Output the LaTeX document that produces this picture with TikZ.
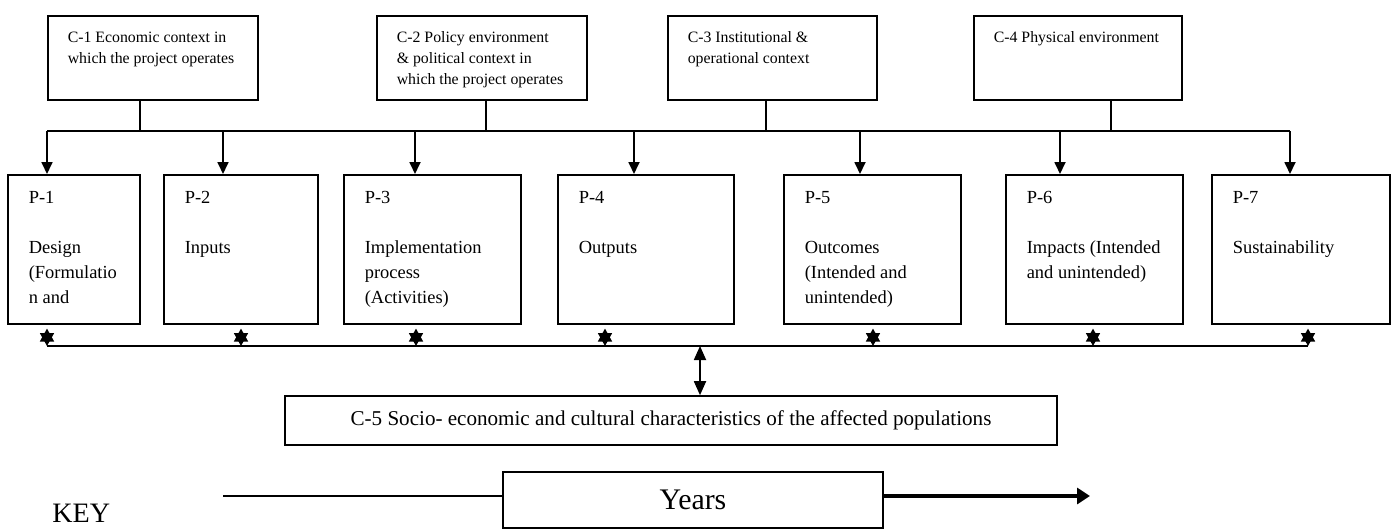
\documentclass[tikz,border=0pt]{standalone}
\usepackage{fontspec}
\setmainfont{Liberation Serif}
\usetikzlibrary{arrows.meta}
\def\boxtext#1#2#3{\parbox[c][#2][t]{#1}{\raggedright #3}}
\tikzset{
	ctxbox/.style={draw, line width=0.9pt, anchor=north west, inner xsep=0.4cm, inner ysep=0.32cm, font=\fontsize{9}{12}\selectfont},
	phasebox/.style={draw, line width=0.9pt, anchor=north west, inner xsep=0.42cm, inner ysep=0.33cm, font=\fontsize{10.5}{14.2}\selectfont},
	link/.style={line width=1pt},
	feed/.style={line width=1pt, -{Triangle[length=0.24cm,width=0.22cm]}},
	twoway/.style={line width=1pt, {Triangle[length=0.28cm,width=0.24cm]}-{Triangle[length=0.28cm,width=0.24cm]}},
	starmark/.style={line width=1pt, {Triangle[length=0.26cm,width=0.28cm]}-{Triangle[length=0.26cm,width=0.28cm]}}
}

\begin{document}
\begin{tikzpicture}
		%%%%% START %%%%%
		\useasboundingbox (0,0) rectangle (27.82,10.58);
		
		\node[ctxbox] (c1) at (0.94,10.28) {\boxtext{3.4cm}{1.04cm}{C-1 Economic context in\\ which the project operates}};
		\node[ctxbox] (c2) at (7.52,10.28) {\boxtext{3.4cm}{1.04cm}{C-2 Policy environment\\ \& political context in\\ which the project operates}};
		\node[ctxbox] (c3) at (13.34,10.28) {\boxtext{3.38cm}{1.04cm}{C-3 Institutional \&\\ operational context}};
		\node[ctxbox] (c4) at (19.46,10.28) {\boxtext{3.36cm}{1.04cm}{C-4 Physical environment}};
		
		\coordinate (t1) at (2.80,7.96);
		\coordinate (t2) at (9.72,7.96);
		\coordinate (t3) at (15.32,7.96);
		\coordinate (t4) at (22.22,7.96);
		\draw[link] (c1.south -| t1) -- (t1);
		\draw[link] (c2.south -| t2) -- (t2);
		\draw[link] (c3.south -| t3) -- (t3);
		\draw[link] (c4.south -| t4) -- (t4);
		
		\node[phasebox] (p1) at (0.14,7.10) {\boxtext{1.80cm}{2.32cm}{P-1\\[\baselineskip]Design\\ (Formulatio\\ n and}};
		\node[phasebox] (p2) at (3.26,7.10) {\boxtext{2.24cm}{2.32cm}{P-2\\[\baselineskip]Inputs}};
		\node[phasebox] (p3) at (6.86,7.10) {\boxtext{2.70cm}{2.32cm}{P-3\\[\baselineskip]Implementation\\ process\\ (Activities)}};
		\node[phasebox] (p4) at (11.14,7.10) {\boxtext{2.68cm}{2.32cm}{P-4\\[\baselineskip]Outputs}};
		\node[phasebox] (p5) at (15.66,7.10) {\boxtext{2.70cm}{2.32cm}{P-5\\[\baselineskip]Outcomes\\ (Intended and\\ unintended)}};
		\node[phasebox] (p6) at (20.10,7.10) {\boxtext{2.70cm}{2.32cm}{P-6\\[\baselineskip]Impacts (Intended\\ and unintended)}};
		\node[phasebox] (p7) at (24.22,7.10) {\boxtext{2.72cm}{2.32cm}{P-7\\[\baselineskip]Sustainability}};
		
		% top bus
		\coordinate (a1) at (0.94,7.96);
		\coordinate (a2) at (4.46,7.96);
		\coordinate (a3) at (8.30,7.96);
		\coordinate (a4) at (12.68,7.96);
		\coordinate (a5) at (17.20,7.96);
		\coordinate (a6) at (21.20,7.96);
		\coordinate (a7) at (25.80,7.96);
		\draw[link] (a1) -- (a7);
		\draw[feed] (a1) -- (a1 |- p1.north);
		\draw[feed] (a2) -- (a2 |- p2.north);
		\draw[feed] (a3) -- (a3 |- p3.north);
		\draw[feed] (a4) -- (a4 |- p4.north);
		\draw[feed] (a5) -- (a5 |- p5.north);
		\draw[feed] (a6) -- (a6 |- p6.north);
		\draw[feed] (a7) -- (a7 |- p7.north);
		
		% bottom bus
		\coordinate (s1) at (0.94,3.66);
		\coordinate (s2) at (4.82,3.66);
		\coordinate (s3) at (8.32,3.66);
		\coordinate (s4) at (12.10,3.66);
		\coordinate (s5) at (17.46,3.66);
		\coordinate (s6) at (21.86,3.66);
		\coordinate (s7) at (26.16,3.66);
		\draw[link] (s1) -- (s7);
		\draw[starmark, shorten >=0.08cm] (s1) -- (s1 |- p1.south);
		\draw[starmark, shorten >=0.08cm] (s2) -- (s2 |- p2.south);
		\draw[starmark, shorten >=0.08cm] (s3) -- (s3 |- p3.south);
		\draw[starmark, shorten >=0.08cm] (s4) -- (s4 |- p4.south);
		\draw[starmark, shorten >=0.08cm] (s5) -- (s5 |- p5.south);
		\draw[starmark, shorten >=0.08cm] (s6) -- (s6 |- p6.south);
		\draw[starmark, shorten >=0.08cm] (s7) -- (s7 |- p7.south);
		
		\node[draw, line width=0.9pt, minimum width=15.44cm, minimum height=0.98cm, font=\fontsize{12}{14}\selectfont] (c5) at (13.42,2.17) {C-5 Socio- economic and cultural characteristics of the affected populations};
		\coordinate (mid) at (14.00,3.66);
		\draw[twoway] (mid) -- (mid |- c5.north);
		
		\node[draw, line width=0.9pt, minimum width=7.6cm, minimum height=1.12cm, font=\fontsize{17}{20}\selectfont] (years) at (13.86,0.58) {Years};
		\coordinate (ystart) at (4.46,0.66);
		\coordinate (yend) at (21.80,0.66);
		\draw[line width=0.6pt] (ystart) -- (years.west |- ystart);
		\draw[line width=2pt, -{Triangle[length=0.26cm,width=0.32cm]}] (years.east |- yend) -- (yend);
		
		\node[anchor=base west, inner sep=0pt, font=\fontsize{16}{19}\selectfont] (key) at (1.04,0.14) {KEY};
		
		%%%%% END %%%%%
\end{tikzpicture}
\end{document}
